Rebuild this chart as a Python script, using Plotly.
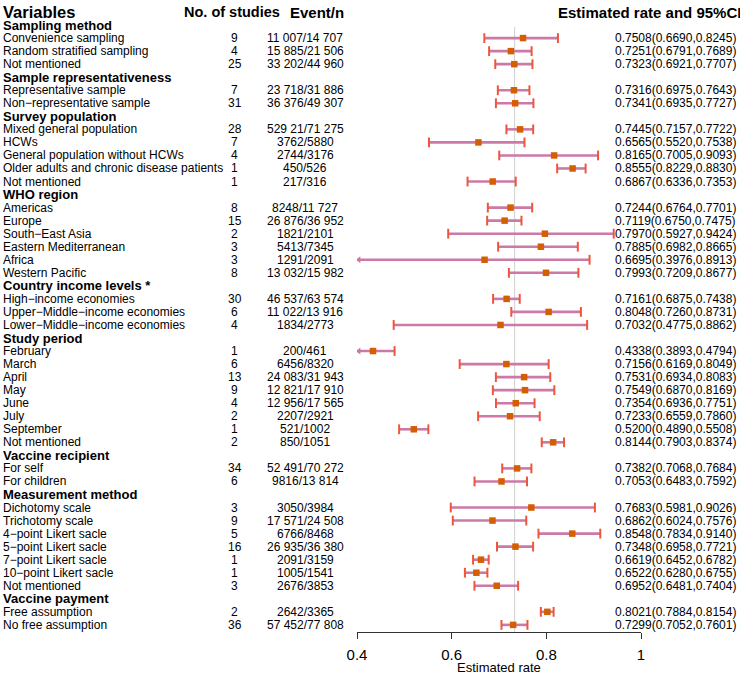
import plotly.graph_objects as go

# ---------------- data ----------------
group_titles = ["Sampling method", "Sample representativeness", "Survey population",
                "WHO region", "Country income levels *", "Study period",
                "Vaccine recipient", "Measurement method", "Vaccine payment"]
group_sizes = [3, 2, 5, 6, 3, 8, 2, 7, 2]

subgroups = ["Convenience sampling", "Random stratified sampling", "Not mentioned",
             "Representative sample", "Non\u2212representative sample",
             "Mixed general population", "HCWs", "General population without HCWs",
             "Older adults and chronic disease patients", "Not mentioned",
             "Americas", "Europe", "South\u2212East Asia", "Eastern Mediterranean", "Africa", "Western Pacific",
             "High\u2212income economies", "Upper\u2212Middle\u2212income economies", "Lower\u2212Middle\u2212income economies",
             "February", "March", "April", "May", "June", "July", "September", "Not mentioned",
             "For self", "For children",
             "Dichotomy scale", "Trichotomy scale", "4\u2212point Likert sacle", "5\u2212point Likert sacle",
             "7\u2212point Likert sacle", "10\u2212point Likert sacle", "Not mentioned",
             "Free assumption", "No free assumption"]

n_studies = [9, 4, 25, 7, 31, 28, 7, 4, 1, 1, 8, 15, 2, 3, 3, 8, 30, 6, 4,
             1, 6, 13, 9, 4, 2, 1, 2, 34, 6, 3, 9, 5, 16, 1, 1, 3, 2, 36]

event_n = ["11 007/14 707", "15 885/21 506", "33 202/44 960",
           "23 718/31 886", "36 376/49 307",
           "529 21/71 275", "3762/5880", "2744/3176", "450/526", "217/316",
           "8248/11 727", "26 876/36 952", "1821/2101", "5413/7345", "1291/2091", "13 032/15 982",
           "46 537/63 574", "11 022/13 916", "1834/2773",
           "200/461", "6456/8320", "24 083/31 943", "12 821/17 910", "12 956/17 565",
           "2207/2921", "521/1002", "850/1051",
           "52 491/70 272", "9816/13 814",
           "3050/3984", "17 571/24 508", "6766/8468", "26 935/36 380", "2091/3159",
           "1005/1541", "2676/3853",
           "2642/3365", "57 452/77 808"]

rate = [0.7508, 0.7251, 0.7323, 0.7316, 0.7341,
        0.7445, 0.6565, 0.8165, 0.8555, 0.6867,
        0.7244, 0.7119, 0.7970, 0.7885, 0.6695, 0.7993,
        0.7161, 0.8048, 0.7032,
        0.4338, 0.7156, 0.7531, 0.7549, 0.7354, 0.7233, 0.5200, 0.8144,
        0.7382, 0.7053,
        0.7683, 0.6862, 0.8548, 0.7348, 0.6619, 0.6522, 0.6952,
        0.8021, 0.7299]
ci_low = [0.6690, 0.6791, 0.6921, 0.6975, 0.6935,
          0.7157, 0.5520, 0.7005, 0.8229, 0.6336,
          0.6764, 0.6750, 0.5927, 0.6982, 0.3976, 0.7209,
          0.6875, 0.7260, 0.4775,
          0.3893, 0.6169, 0.6934, 0.6870, 0.6936, 0.6559, 0.4890, 0.7903,
          0.7068, 0.6483,
          0.5981, 0.6024, 0.7834, 0.6958, 0.6452, 0.6280, 0.6481,
          0.7884, 0.7052]
ci_high = [0.8245, 0.7689, 0.7707, 0.7643, 0.7727,
           0.7722, 0.7538, 0.9093, 0.8830, 0.7353,
           0.7701, 0.7475, 0.9424, 0.8665, 0.8913, 0.8677,
           0.7438, 0.8731, 0.8862,
           0.4794, 0.8049, 0.8083, 0.8169, 0.7751, 0.7860, 0.5508, 0.8374,
           0.7684, 0.7592,
           0.9026, 0.7576, 0.9140, 0.7721, 0.6782, 0.6755, 0.7404,
           0.8154, 0.7601]

overall_rate = 0.733
x_ticks = [0.4, 0.6, 0.8, 1]
x_tick_labels = ["0.4", "0.6", "0.8", "1"]
x_min, x_max = 0.4, 1.0

# ---------------- layout helpers ----------------
W, H = 740, 674
ROW0, ROWH = 12.0, 13.04
AXIS_PX = 632

def px_x(p):
    return p / W

pink = "#CC79A7"
orange = "#D55E00"
FONT = "Liberation Sans"

# row positions
group_rows, sub_rows = [], []
r = 1
for g, n in zip(group_titles, group_sizes):
    group_rows.append(-r)
    r += 1
    for _ in range(n):
        sub_rows.append(-r)
        r += 1

fig = go.Figure()

# CI lines
lx, ly = [], []
cap_x, cap_y = [], []
arr_y = []
for lo, hi, y in zip(ci_low, ci_high, sub_rows):
    lx += [max(lo, x_min), min(hi, x_max), None]
    ly += [y, y, None]
    if lo >= x_min:
        cap_x.append(lo); cap_y.append(y)
    else:
        arr_y.append(y)
    if hi <= x_max:
        cap_x.append(hi); cap_y.append(y)

fig.add_trace(go.Scatter(x=lx, y=ly, mode="lines", line=dict(color=pink, width=2.6),
                         hoverinfo="skip", showlegend=False))
fig.add_trace(go.Scatter(x=cap_x, y=cap_y, mode="markers",
                         marker=dict(symbol="line-ns-open", size=7, line=dict(color=pink, width=2)),
                         hoverinfo="skip", showlegend=False))
fig.add_trace(go.Scatter(x=[x_min + 0.004] * len(arr_y), y=arr_y, mode="markers",
                         marker=dict(symbol="triangle-left", size=6, color=pink),
                         hoverinfo="skip", showlegend=False))
fig.add_trace(go.Scatter(x=rate, y=sub_rows, mode="markers",
                         marker=dict(symbol="square", size=6.5, color=orange),
                         showlegend=False))

# reference line
fig.add_shape(type="line", xref="x", yref="y", x0=overall_rate, x1=overall_rate,
              y0=-1.15, y1=-(AXIS_PX - ROW0) / ROWH,
              line=dict(color="#D0D0D0", width=1), layer="below")

ann = []
# headers
ann.append(dict(x=px_x(2), y=0, text="<b>Variables</b>", xanchor="left", font=dict(size=16.5)))
ann.append(dict(x=px_x(183), y=0, text="<b>No. of studies</b>", xanchor="left", font=dict(size=14.5)))
ann.append(dict(x=px_x(289), y=0, text="<b>Event/n</b>", xanchor="left", font=dict(size=15)))
ann.append(dict(x=px_x(557), y=0, text="<b>Estimated rate and 95%CI</b>", xanchor="left", font=dict(size=15)))

for g, y in zip(group_titles, group_rows):
    ann.append(dict(x=px_x(2), y=y, text="<b>" + g + "</b>", xanchor="left", font=dict(size=13)))

for lab, ns, ev, e, lo, hi, y in zip(subgroups, n_studies, event_n, rate, ci_low, ci_high, sub_rows):
    ann.append(dict(x=px_x(2), y=y, text=lab, xanchor="left", font=dict(size=12)))
    ann.append(dict(x=px_x(235), y=y, text=str(ns), xanchor="center", font=dict(size=12)))
    ann.append(dict(x=px_x(305), y=y, text=ev, xanchor="center", font=dict(size=12)))
    ann.append(dict(x=px_x(614), y=y, text=f"{e:.4f}({lo:.4f},{hi:.4f})", xanchor="left", font=dict(size=12)))

for a in ann:
    a.update(xref="paper", yref="y", yanchor="middle", showarrow=False, borderpad=0)
    a["font"].update(family=FONT, color="#000000")

ann.append(dict(x=px_x(499), y=1 - 667 / H, xref="paper", yref="paper", text="Estimated rate",
                showarrow=False, xanchor="center", yanchor="middle", borderpad=0,
                font=dict(family=FONT, size=13, color="#000000")))

fig.update_layout(
    width=W, height=H,
    margin=dict(l=0, r=0, t=0, b=0, pad=0, autoexpand=False),
    paper_bgcolor="white", plot_bgcolor="white",
    annotations=ann,
    font=dict(family=FONT, color="#000000"),
    xaxis=dict(domain=[357 / W, 641 / W], range=[x_min, x_max], tickvals=x_ticks, ticktext=x_tick_labels,
               showline=True, linecolor="#333333", linewidth=1, ticks="outside", ticklen=6,
               tickcolor="#333333", showgrid=False, zeroline=False, automargin=False,
               tickfont=dict(size=15, family=FONT, color="#000000"), ticklabelstandoff=3),
    yaxis=dict(domain=[1 - AXIS_PX / H, 1], range=[-(AXIS_PX - ROW0) / ROWH, ROW0 / ROWH],
               visible=False, showgrid=False, zeroline=False, automargin=False),
)

fig.write_html("out.html", config={"displayModeBar": False},
               post_script="document.body.style.margin='0';document.body.style.overflow='hidden';")
